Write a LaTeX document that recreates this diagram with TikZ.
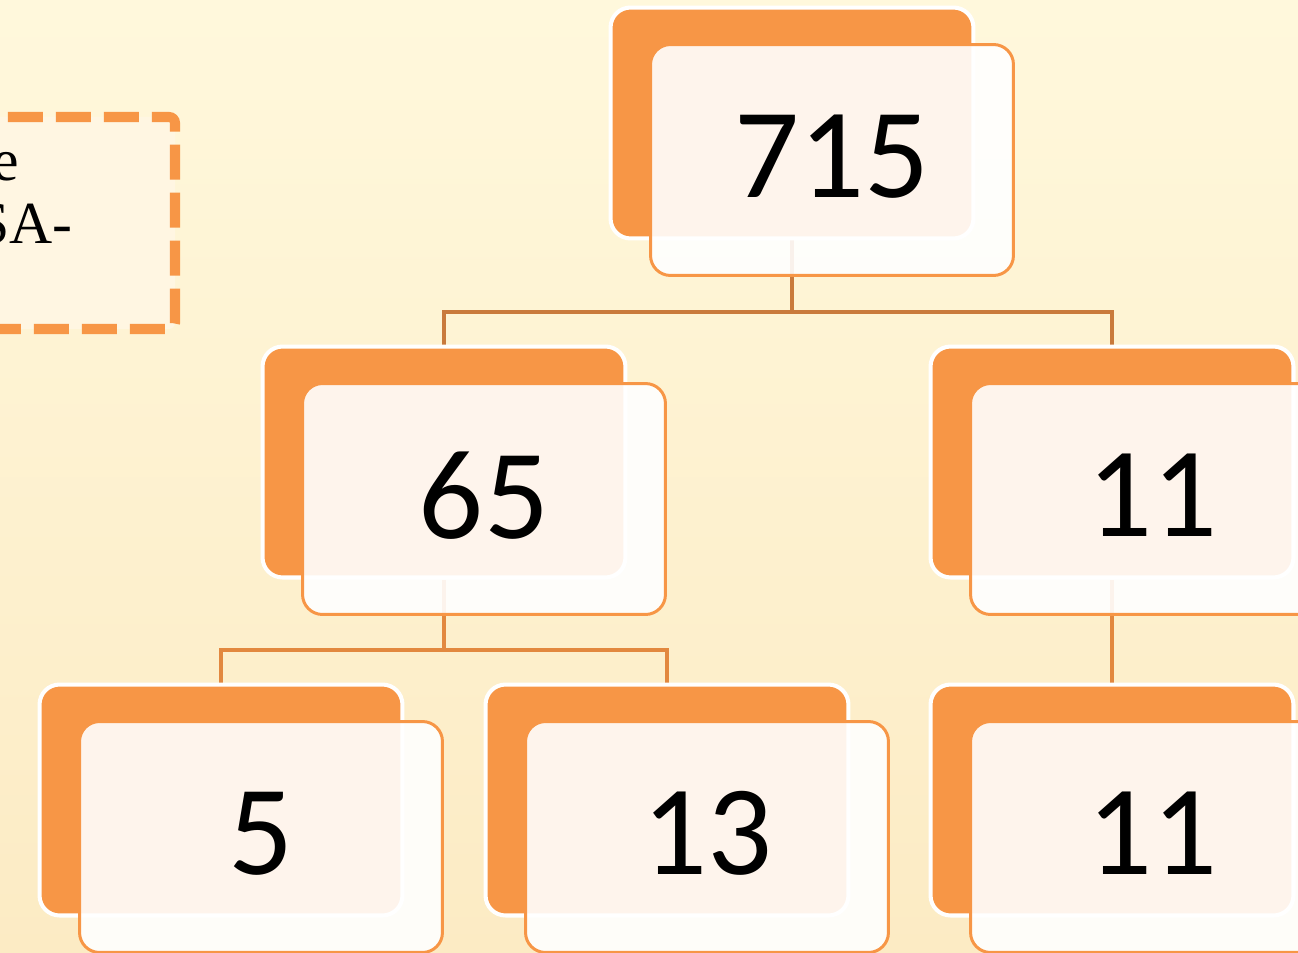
\documentclass[tikz,border=0pt]{standalone}
\usepackage{fontspec}
\setmainfont{Liberation Serif}
\newfontfamily\cardfont{Carlito}
\usetikzlibrary{backgrounds}
\definecolor{cardorange}{HTML}{F79646}
\definecolor{linktop}{HTML}{C97A3C}
\definecolor{linklow}{HTML}{E2883F}
\definecolor{bgtop}{HTML}{FFF8DC}
\definecolor{bgbottom}{HTML}{FCEBC4}
\definecolor{notefill}{HTML}{FFF6E2}
\tikzset{
	backcard/.style = {rectangle, rounded corners = 0.4cm, fill = cardorange, draw = white, line width = 2.3pt, minimum width = 7.26cm, minimum height = 4.62cm, inner sep = 0},
	frontcard/.style = {rectangle, rounded corners = 0.4cm, fill = white, fill opacity = 0.9, text opacity = 1, draw = cardorange, line width = 1.7pt, minimum width = 7.26cm, minimum height = 4.62cm, inner sep = 0, text depth = 4.5pt, font = \cardfont\fontsize{73}{73}\selectfont},
	link/.style = {line width = 2.8pt},
	notetext/.style = {anchor = base east, inner sep = 0, font = \fontsize{34}{34}\selectfont}
}
\begin{document}
\begin{tikzpicture}[x = 0.02cm, y = -0.02cm]
		\useasboundingbox (0,0) rectangle (1298,953);
		\clip (0,0) rectangle (1298,953);
		
		%note box on the left
		\draw [cardorange, line width = 5.7pt, dash pattern = on 0.7cm off 0.26cm, fill = notefill, rounded corners = 0.12cm] (-40,117) -- (175,117) -- (175,329) -- (-40,329);
		\node [notetext] (note1) at (19,180) {e};
		\node [notetext] (note2) at (73,243) {SA-};
		
		%top
		\node [backcard] (b715) at (792,123) {};
		\node [frontcard] (f715) at (832,160) {715};
		
		%second row
		\node [backcard] (b65) at (444,462) {};
		\node [frontcard] (f65) at (484,499) {65};
		\node [backcard] (b11) at (1112,462) {};
		\node [frontcard] (f11) at (1152,499) {11};
		
		%third row
		\node [backcard] (b5) at (221,800) {};
		\node [frontcard] (f5) at (261,837) {5};
		\node [backcard] (b13) at (667,800) {};
		\node [frontcard] (f13) at (707,837) {13};
		\node [backcard] (b11b) at (1112,800) {};
		\node [frontcard] (f11b) at (1152,837) {11};
		
		\begin{scope}[on background layer]
			\shade [top color = bgtop, bottom color = bgbottom] (0,0) rectangle (1298,953);
			\coordinate (j1) at (792,312);
			\coordinate (j2) at (444,650);
			\draw [link, linktop] (b715.south) -- (j1) -| (b65.north);
			\draw [link, linktop] (j1) -| (b11.north);
			\draw [link, linklow] (b65.south) -- (j2) -| (b5.north);
			\draw [link, linklow] (j2) -| (b13.north);
			\draw [link, linklow] (b11.south) -- (b11b.north);
		\end{scope}
	\end{tikzpicture}
\end{document}
